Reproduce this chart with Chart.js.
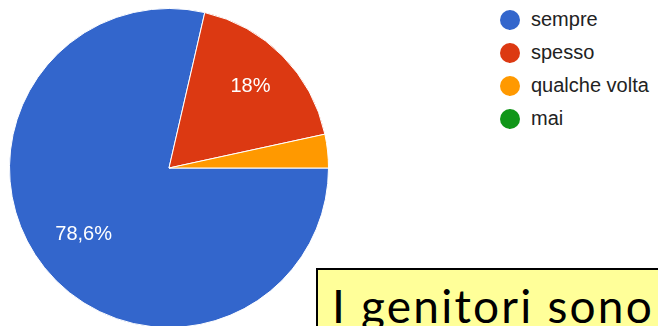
<!DOCTYPE html>
<html>
<head>
<meta charset="utf-8">
<script src="https://cdn.jsdelivr.net/npm/chart.js@4.4.0/dist/chart.umd.min.js"></script>
<style>
    html, body { margin: 0; padding: 0; background: #fff; overflow: hidden; }
    body { width: 658px; height: 326px; position: relative; }
    #pieWrap { position: absolute; left: 9px; top: 8px; width: 320px; height: 320px; }
    #legend { position: absolute; left: 500px; top: 3px; font-family: "Liberation Sans", Arial, sans-serif; font-size: 20px; color: #222; }
    #legend .row { height: 33px; display: flex; align-items: center; white-space: nowrap; }
    #legend .dot { width: 20px; height: 20px; border-radius: 50%; margin-right: 11px; }
    #note { position: absolute; left: 316px; top: 268px; width: 400px; height: 100px; background: #ffff99; border: 2px solid #000; box-sizing: border-box; }
    #note span { position: absolute; left: 14px; top: 13px; font-family: Lato, sans-serif; font-size: 46px; line-height: 1; letter-spacing: 2.2px; color: #000; white-space: nowrap; }
</style>
</head>
<body>
<div id="pieWrap"><canvas id="pieChart"></canvas></div>
<div id="legend"></div>
<div id="note"><span>I genitori sono</span></div>
<script>
const risposte = ['sempre', 'spesso', 'qualche volta', 'mai'];
const percentuali = [78.6, 18, 3.4, 0];
const colori = ['#3366cc', '#dc3912', '#ff9900', '#109618'];

// scrive la percentuale dentro le fette abbastanza grandi
const etichette = {
    id: 'etichette',
    afterDatasetsDraw(chart) {
        const ctx = chart.ctx;
        const arcs = chart.getDatasetMeta(0).data;
        ctx.save();
        ctx.font = '20px "Liberation Sans", Arial, sans-serif';
        ctx.fillStyle = '#fff';
        ctx.textAlign = 'center';
        ctx.textBaseline = 'middle';
        for (let i = 0; i < arcs.length; i++) {
            if (percentuali[i] < 10) continue;
            const a = arcs[i];
            const mid = (a.startAngle + a.endAngle) / 2;
            const r = a.outerRadius * 0.7;
            const x = a.x + Math.cos(mid) * r + 2;
            const y = a.y + Math.sin(mid) * r - 3;
            ctx.fillText(percentuali[i].toLocaleString('it-IT') + '%', x, y);
        }
        ctx.restore();
    }
};

function pieChart() {
    const ctx = document.getElementById('pieChart');
    new Chart(ctx, {
        type: 'pie',
        data: {
            labels: risposte,
            datasets: [{
                data: percentuali,
                backgroundColor: colori,
                borderColor: '#fff',
                borderWidth: 1,
            }]
        },
        options: {
            responsive: true,
            maintainAspectRatio: false,
            animation: false,
            rotation: 90,
            layout: { padding: 0 },
            plugins: {
                legend: { display: false },
                tooltip: { enabled: false }
            }
        },
        plugins: [etichette]
    });
}

function legenda() {
    const box = document.getElementById('legend');
    for (let i = 0; i < risposte.length; i++) {
        const row = document.createElement('div');
        row.className = 'row';
        const dot = document.createElement('span');
        dot.className = 'dot';
        dot.style.background = colori[i];
        const txt = document.createElement('span');
        txt.textContent = risposte[i];
        row.appendChild(dot);
        row.appendChild(txt);
        box.appendChild(row);
    }
}

pieChart();
legenda();
</script>
</body>
</html>
